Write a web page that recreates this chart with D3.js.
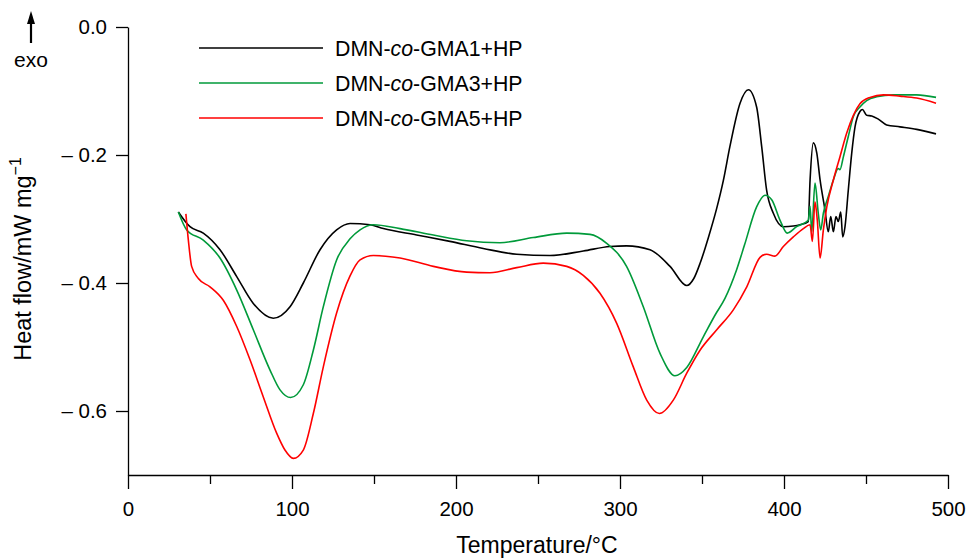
<!DOCTYPE html>
<html lang="en">
<head>
<meta charset="UTF-8">
<title>DSC curves</title>
<script src="https://d3js.org/d3.v7.min.js"></script>
<style>
body{margin:0;background:#fff}
svg{display:block;font-family:"Liberation Sans",Arial,sans-serif}
.axis path,.axis line{stroke:#000;stroke-width:1.3}
.axis text{font-size:20.5px;fill:#000}
.curve{fill:none;stroke-width:1.6;stroke-linejoin:round}
</style>
</head>
<body>
<svg id="chart" width="969" height="560"></svg>
<script>
// heat flow readings [temperature °C, mW/mg]
const gma1 = [[30.7,-0.289],[37.8,-0.312],[45.9,-0.322],[56.1,-0.348],[66.3,-0.390],[76.4,-0.432],[88.6,-0.455],[98.8,-0.437],[106.9,-0.400],[117.1,-0.348],[127.2,-0.317],[135.4,-0.307],[147.6,-0.309],[155.7,-0.315],[176,-0.325],[196.3,-0.335],[216.6,-0.346],[237,-0.355],[257.3,-0.357],[277.6,-0.350],[293.9,-0.343],[304,-0.342],[318.3,-0.348],[330.5,-0.374],[340.7,-0.404],[345,-0.393],[349,-0.368],[354,-0.328],[359,-0.283],[363,-0.240],[367,-0.187],[373.2,-0.119],[378.3,-0.098],[383.3,-0.125],[386.4,-0.187],[389.4,-0.255],[393.5,-0.291],[399.6,-0.312],[405.7,-0.311],[409.8,-0.309],[414.8,-0.304],[415.9,-0.239],[417.9,-0.181],[420,-0.197],[422,-0.239],[425,-0.286],[427,-0.320],[428.5,-0.296],[430.1,-0.320],[431.7,-0.296],[433.1,-0.304],[434.6,-0.289],[435.8,-0.328],[437.2,-0.312],[439.2,-0.255],[441.3,-0.197],[443.3,-0.156],[446.3,-0.132],[447.8,-0.129],[450.4,-0.138],[453.5,-0.139],[457.5,-0.144],[462.6,-0.153],[470.7,-0.156],[480.9,-0.160],[492.7,-0.167]];

const gma3 = [[30.7,-0.289],[35.8,-0.317],[45.9,-0.333],[56.1,-0.361],[66.3,-0.411],[76.4,-0.473],[86.6,-0.536],[92.7,-0.567],[99.2,-0.579],[106.9,-0.559],[113,-0.505],[119.1,-0.437],[127.2,-0.364],[135.4,-0.331],[141.5,-0.317],[149.6,-0.309],[165.9,-0.315],[186.2,-0.325],[206.5,-0.334],[226.8,-0.337],[247.1,-0.329],[267.5,-0.322],[281.7,-0.324],[291.9,-0.338],[304,-0.374],[314.2,-0.437],[324.4,-0.510],[333.5,-0.545],[340.7,-0.532],[350.8,-0.484],[358,-0.450],[364,-0.424],[371,-0.380],[376,-0.340],[383.3,-0.281],[388.4,-0.263],[392.5,-0.270],[397.6,-0.302],[402,-0.322],[407.7,-0.312],[414.8,-0.302],[415.9,-0.280],[416.9,-0.320],[418.9,-0.244],[420.9,-0.291],[422.4,-0.317],[424,-0.291],[427,-0.265],[430.1,-0.239],[433.1,-0.221],[434.1,-0.223],[436.2,-0.203],[439.2,-0.171],[442.3,-0.140],[446.3,-0.125],[450.4,-0.115],[456.5,-0.109],[466.7,-0.106],[480.9,-0.106],[492.7,-0.110]];

const gma5 = [[35.3,-0.292],[36.8,-0.333],[38.8,-0.374],[42.9,-0.393],[50,-0.406],[58.1,-0.427],[66.3,-0.468],[74.4,-0.520],[82.5,-0.578],[90.7,-0.635],[95.7,-0.661],[100.8,-0.674],[106.9,-0.661],[113,-0.604],[119.1,-0.531],[127.2,-0.447],[135.4,-0.389],[141.5,-0.364],[149.6,-0.357],[165.9,-0.361],[186.2,-0.374],[206.5,-0.383],[220.7,-0.384],[237,-0.376],[253.2,-0.369],[267.5,-0.374],[277.6,-0.388],[287.8,-0.416],[298,-0.463],[308.1,-0.531],[316.3,-0.583],[324,-0.604],[332.5,-0.583],[340.7,-0.541],[348.8,-0.505],[359,-0.473],[369.1,-0.442],[377.3,-0.406],[385.4,-0.360],[389.4,-0.355],[394.5,-0.358],[399.6,-0.343],[405.7,-0.328],[411.8,-0.315],[415.9,-0.309],[417.3,-0.335],[418.9,-0.273],[420.3,-0.302],[422,-0.361],[424,-0.317],[426.1,-0.281],[430.1,-0.239],[434.1,-0.203],[438.2,-0.166],[442.3,-0.138],[446.3,-0.120],[452.4,-0.110],[460.6,-0.106],[470.7,-0.108],[480.9,-0.111],[492.7,-0.119]];

const seriesNames = ['GMA1', 'GMA3', 'GMA5'];
const seriesColors = ['#000000', '#009a3a', '#ff0000'];
const xMajorTicks = [0, 100, 200, 300, 400, 500];
const xMinorTicks = [50, 150, 250, 350, 450];
const yTicks = [0, -0.2, -0.4, -0.6];

const svg = d3.select('#chart');
const x = d3.scaleLinear().domain([0, 500]).range([128, 948]);
const y = d3.scaleLinear().domain([-0.7, 0]).range([475, 27]);

// axes
svg.append('g').attr('class', 'axis')
  .attr('transform', 'translate(0,475)')
  .call(d3.axisBottom(x).tickValues(xMinorTicks).tickSize(9).tickSizeOuter(0).tickFormat(''))
  .select('.domain').remove();
svg.append('g').attr('class', 'axis')
  .attr('transform', 'translate(0,475)')
  .call(d3.axisBottom(x).tickValues(xMajorTicks).tickSize(14).tickSizeOuter(0).tickPadding(12).tickFormat(d3.format('d')));

svg.append('g').attr('class', 'axis')
  .attr('transform', 'translate(128,0)')
  .call(d3.axisLeft(y).tickValues(yTicks).tickSize(12).tickSizeOuter(0).tickPadding(9)
    .tickFormat(d => d === 0 ? '0.0' : '\u2013 ' + Math.abs(d).toFixed(1)));

// axis titles
svg.append('text')
  .attr('x', 537).attr('y', 553)
  .attr('text-anchor', 'middle').attr('font-size', 23)
  .text('Temperature/\u00B0C');

const yt = svg.append('text')
  .attr('transform', 'translate(31,259) rotate(-90)')
  .attr('text-anchor', 'middle').attr('font-size', 23.5);
yt.append('tspan').text('Heat flow/mW mg');
yt.append('tspan').attr('dy', -10).attr('font-size', 16).text('\u22121');

// exo arrow
svg.append('line').attr('x1', 31).attr('x2', 31).attr('y1', 22).attr('y2', 43)
  .attr('stroke', '#000').attr('stroke-width', 2.2);
svg.append('path').attr('d', 'M31,11 L27,24 L35,24 Z').attr('fill', '#000');
svg.append('text').attr('x', 31).attr('y', 67).attr('text-anchor', 'middle')
  .attr('font-size', 21).text('exo');

// curves
const line = d3.line()
  .x(d => x(d[0]))
  .y(d => y(d[1]))
  .curve(d3.curveMonotoneX);

[gma1, gma3, gma5].forEach((s, i) => {
  svg.append('path').attr('class', 'curve')
    .attr('stroke', seriesColors[i])
    .attr('d', line(s));
});

// legend
const legend = svg.append('g');
seriesNames.forEach((n, i) => {
  const ly = 48 + i * 35;
  legend.append('line').attr('x1', 199).attr('x2', 323).attr('y1', ly).attr('y2', ly)
    .attr('stroke', seriesColors[i]).attr('stroke-width', 1.3);
  const t = legend.append('text').attr('x', 335).attr('y', ly + 7.5).attr('font-size', 21.3);
  t.append('tspan').text('DMN-');
  t.append('tspan').attr('font-style', 'italic').text('co');
  t.append('tspan').text('-' + n + '+HP');
});
</script>
</body>
</html>
